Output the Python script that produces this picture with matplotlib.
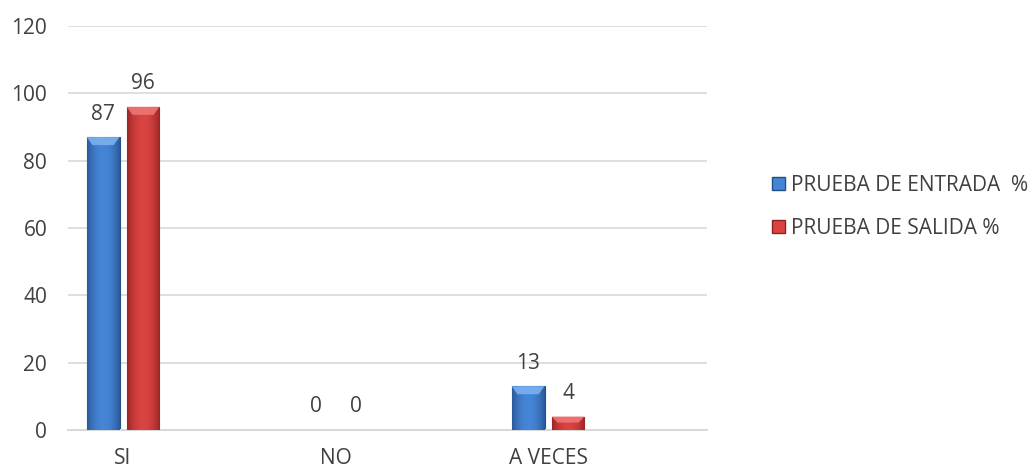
import numpy as np
import matplotlib.pyplot as plt
from matplotlib.patches import Patch, Polygon
from matplotlib.colors import LinearSegmentedColormap

categories = ["SI", "NO", "A VECES"]
entrada = [87, 0, 13]
salida = [96, 0, 4]
series_names = ["PRUEBA DE ENTRADA  %", "PRUEBA DE SALIDA %"]

plt.rcParams['font.family'] = ['Open Sans', 'DejaVu Sans']
text_col = '#404040'

fig = plt.figure(figsize=(10.33, 4.70), dpi=100)
ax = fig.add_axes([68 / 1033, 40 / 470, (707 - 68) / 1033, (430 - 26) / 470])

x = np.arange(len(categories))
w = 0.155
off = 0.094

# (dark edge, light centre, top bevel)
colors = [("#2a5a9a", "#4585d6", "#7fb4f0"), ("#9c2626", "#d94442", "#f07a78")]
edges = ["#244f85", "#8a2222"]

ymax = 120
bevel = ymax * 8 / 404


def shade_bars(bars, dark, light, top):
    # horizontal gradient clipped to each bar, dark edges / light centre
    grad = 1 - np.abs(np.linspace(-1, 1, 64)) ** 2
    cmap = LinearSegmentedColormap.from_list("g", [dark, light])
    for b in bars:
        h = b.get_height()
        if h <= 0:
            continue
        x0 = b.get_x()
        bw = b.get_width()
        im = ax.imshow(grad[None, :], cmap=cmap, aspect='auto',
                       extent=(x0, x0 + bw, 0, h), zorder=3)
        im.set_clip_path(b)
        e = min(bevel, h * 0.45)
        d = bw * 0.18
        ax.add_patch(Polygon([(x0, h), (x0 + bw, h), (x0 + bw - d, h - e),
                              (x0 + d, h - e)], closed=True,
                             facecolor=top, edgecolor='none', alpha=0.85,
                             zorder=4))


b1 = ax.bar(x - off, entrada, w, color=colors[0][1], edgecolor=edges[0],
            linewidth=0.8, zorder=2)
b2 = ax.bar(x + off, salida, w, color=colors[1][1], edgecolor=edges[1],
            linewidth=0.8, zorder=2)
shade_bars(b1, *colors[0])
shade_bars(b2, *colors[1])

for bars, vals in ((b1, entrada), (b2, salida)):
    for b, v in zip(bars, vals):
        ax.annotate(str(v), (b.get_x() + b.get_width() / 2, v),
                    xytext=(0, 9), textcoords='offset points',
                    ha='center', va='bottom', fontsize=15, color=text_col)

ax.set_xlim(-0.259, 2.748)
ax.set_ylim(0, ymax)
ax.set_yticks(range(0, 121, 20))
ax.set_xticks(x)
ax.set_xticklabels(categories)
ax.tick_params(axis='both', length=0, labelsize=15, labelcolor=text_col)
ax.tick_params(axis='y', pad=15)
ax.tick_params(axis='x', pad=13)
ax.grid(axis='y', color='#d9d9d9', linewidth=1.2)
ax.set_axisbelow(True)
for s in ['top', 'right', 'left']:
    ax.spines[s].set_visible(False)
ax.spines['bottom'].set_color('#d9d9d9')
ax.spines['bottom'].set_linewidth(1.5)

handles = [Patch(facecolor=colors[0][1], edgecolor=edges[0]),
           Patch(facecolor=colors[1][1], edgecolor=edges[1])]
fig.legend(handles, series_names, loc='center left',
           bbox_to_anchor=(764 / 1033, 1 - 207 / 470), frameon=False,
           fontsize=15, labelcolor=text_col, handlelength=0.6,
           handleheight=0.6, handletextpad=0.3, labelspacing=1.05,
           borderaxespad=0)

fig.savefig("out.png", dpi=100)
